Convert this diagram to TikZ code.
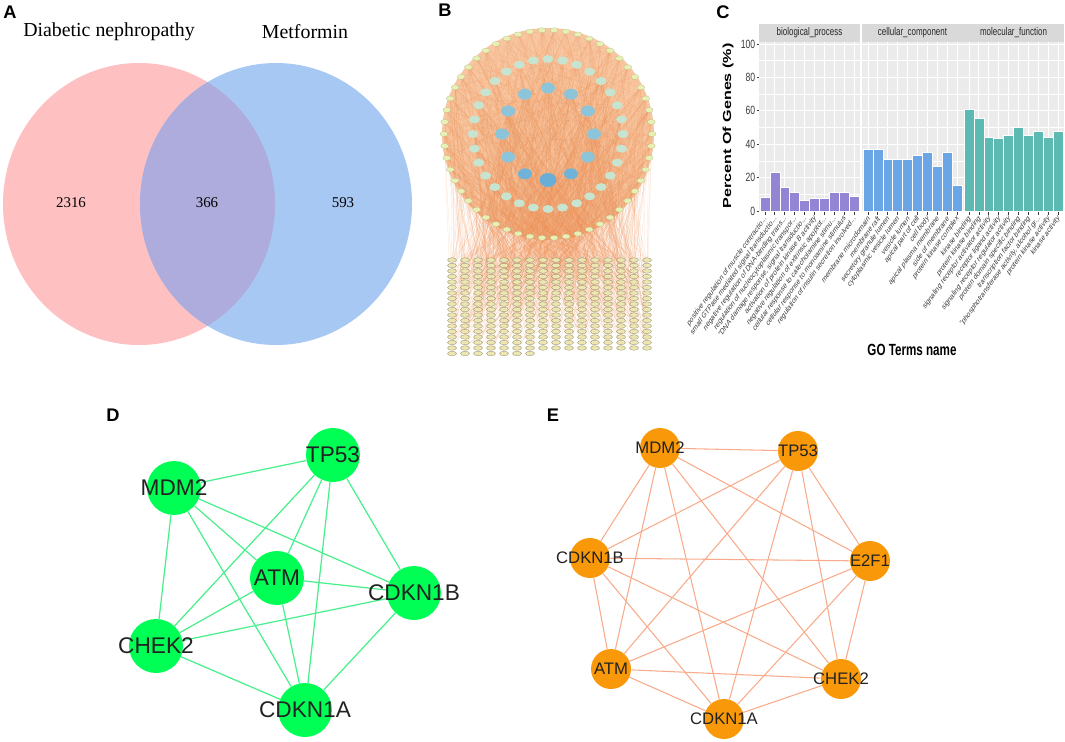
\documentclass[tikz,border=0pt]{standalone}
\usepackage{fontspec}
\setmainfont{Liberation Serif}
\setsansfont{Liberation Sans}
\usetikzlibrary{shapes.geometric}

\definecolor{vennpink}{HTML}{FFC0C2}
\definecolor{vennblue}{HTML}{A8C8F4}
\definecolor{vennmix}{HTML}{AEACDC}
\definecolor{netorange}{HTML}{EE9055}
\definecolor{nethaze}{HTML}{F8C6A0}
\definecolor{outerring}{HTML}{E9F0B4}
\definecolor{midring}{HTML}{C6E4D0}
\definecolor{hubblue}{HTML}{8CC4DA}
\definecolor{hubdark}{HTML}{6AAED8}
\definecolor{gridnode}{HTML}{EDE6B0}
\definecolor{panelgrey}{HTML}{EBEBEB}
\definecolor{stripgrey}{HTML}{D9D9D9}
\definecolor{bpcolor}{HTML}{9484D4}
\definecolor{cccolor}{HTML}{6AA5E6}
\definecolor{mfcolor}{HTML}{5DBAB2}
\definecolor{axisgrey}{HTML}{3A3A3A}
\definecolor{hubgreen}{HTML}{00FF55}
\definecolor{linkgreen}{HTML}{48F08C}
\definecolor{huborange}{HTML}{F9990A}
\definecolor{linkorange}{HTML}{F8AA8A}
\definecolor{labgrey}{HTML}{222222}

\pgfdeclarelayer{bg}
\pgfsetlayers{bg,main}

% truncated GO term ending
\newcommand{\gotrunc}{...}

\tikzset{
  plabel/.style={font=\sffamily\bfseries\fontsize{10.4}{12}\selectfont, inner sep=0pt},
  vtitle/.style={font=\fontsize{11.3}{13}\selectfont, inner sep=0pt},
  vcount/.style={font=\fontsize{8.5}{10}\selectfont, inner sep=0pt},
  onode/.style={ellipse, fill=outerring, draw=outerring!75!black, line width=0.1pt,
    minimum width=0.16cm, minimum height=0.1cm, inner sep=0pt},
  mnode/.style={ellipse, fill=midring, minimum width=0.22cm, minimum height=0.16cm, inner sep=0pt},
  bnode/.style={ellipse, fill=hubblue, minimum width=0.28cm, minimum height=0.22cm, inner sep=0pt},
  gnode/.style={ellipse, fill=gridnode, draw=gridnode!55!black, line width=0.15pt,
    minimum width=0.18cm, minimum height=0.09cm, inner sep=0pt},
  bedge/.style={netorange, line width=0.15pt, opacity=0.28},
  gstrip/.style={fill=stripgrey},
  gpanel/.style={fill=panelgrey},
  gmajor/.style={white, line width=0.5pt},
  gminor/.style={white, line width=0.25pt},
  gtick/.style={axisgrey, line width=0.4pt},
  gaxis/.style={font=\sffamily\fontsize{6.8}{8}\selectfont, text=axisgrey, inner sep=0pt},
  gstriptext/.style={font=\sffamily\fontsize{6.3}{7}\selectfont, text=black!85, inner sep=0pt},
  gterm/.style={font=\sffamily\fontsize{4.8}{5}\selectfont, text=axisgrey, inner sep=0pt},
  gtitle/.style={font=\sffamily\bfseries\fontsize{9.2}{10}\selectfont, inner sep=0pt},
  bpbar/.style={fill=bpcolor, draw=white, line width=0.3pt},
  ccbar/.style={fill=cccolor, draw=white, line width=0.3pt},
  mfbar/.style={fill=mfcolor, draw=white, line width=0.3pt},
  dnode/.style={circle, fill=hubgreen, minimum size=1.08cm, inner sep=0pt},
  dlab/.style={font=\sffamily\fontsize{12.9}{14}\selectfont, text=labgrey, inner sep=0pt},
  dedge/.style={linkgreen, line width=0.7pt},
  enode/.style={circle, fill=huborange, minimum size=0.8cm, inner sep=0pt},
  elab/.style={font=\sffamily\fontsize{9.5}{11}\selectfont, text=labgrey, inner sep=0pt},
  eedge/.style={linkorange, line width=0.6pt}
}

\begin{document}
\begin{tikzpicture}[x=0.02cm,y=-0.02cm]
\useasboundingbox (0,0) rectangle (1065,741);

% A: Venn diagram
\fill[vennpink] (139,204) ellipse [x radius=136, y radius=141];
\fill[vennblue] (276,204) ellipse [x radius=136, y radius=141];
\begin{scope}
  \clip (139,204) ellipse [x radius=136, y radius=141];
  \fill[vennmix] (276,204) ellipse [x radius=136, y radius=141];
\end{scope}
\node[plabel] (lab-a) at (10,12) {A};
\node[vtitle] (set-dn) at (109,32) {Diabetic nephropathy};
\node[vtitle] (set-met) at (305,32) {Metformin};
\node[vcount] (n-dn) at (71,203) {2316};
\node[vcount] (n-both) at (207,203) {366};
\node[vcount] (n-met) at (343,203) {593};

% B: drug-target network
\node[plabel] (lab-b) at (445,10) {B};
\begin{scope}[shift={(548,134)}]
  \foreach \i in {1,...,54}
    \node[onode] (o\i) at ({\i*20/3}:104) {};
  \foreach \i in {1,...,32}
    \node[mnode] (m\i) at ({\i*11.25}:75) {};
  \foreach \i in {1,5,6,7,8,9,10,11,12}
    \node[bnode] (b\i) at ({\i*30}:46) {};
  \foreach \i in {2,4}
    \node[bnode, fill=hubdark!80!hubblue] (b\i) at ({\i*30}:46) {};
  \node[bnode, fill=hubdark, minimum width=0.34cm, minimum height=0.28cm] (b3) at (90:46) {};
\end{scope}
\foreach \r in {1,...,17}
  \foreach \c in {1,...,16}
    \node[gnode] (g-\r-\c) at ({439+13*\c},{254.5+5.5*\r}) {};
\foreach \c in {1,...,7}
  \node[gnode] (g-18-\c) at ({439+13*\c},353.5) {};

\begin{pgfonlayer}{bg}
  \fill[nethaze] (548,134) circle [radius=106];
  \pgfmathsetseed{11}
  \foreach \r in {1,...,17}
    \foreach \c in {1,...,16} {
      \pgfmathrandominteger{\tgo}{1}{54}
      \pgfmathrandominteger{\tgp}{1}{54}
      \pgfmathrandominteger{\tgm}{1}{32}
      \pgfmathrandominteger{\tgb}{1}{12}
      \draw[bedge] (g-\r-\c) -- (o\tgo) (g-\r-\c) -- (o\tgp) (g-\r-\c) -- (m\tgm)
        (g-\r-\c) -- (b\tgb);
    }
  \foreach \c in {1,...,7} {
    \pgfmathrandominteger{\tgo}{1}{54}
    \pgfmathrandominteger{\tgm}{1}{32}
    \draw[bedge] (g-18-\c) -- (o\tgo) (g-18-\c) -- (m\tgm);
  }
  \foreach \i in {1,...,54} {
    \pgfmathrandominteger{\tgm}{1}{32}
    \pgfmathrandominteger{\tgb}{1}{12}
    \pgfmathrandominteger{\tgo}{1}{54}
    \draw[bedge] (o\i) -- (m\tgm) (o\i) -- (b\tgb) (o\i) -- (o\tgo);
  }
  \foreach \i in {1,...,32} {
    \pgfmathrandominteger{\tgb}{1}{12}
    \pgfmathrandominteger{\tgo}{1}{54}
    \draw[bedge] (m\i) -- (b\tgb) (m\i) -- (o\tgo);
  }
\end{pgfonlayer}

% C: GO enrichment bars
\node[plabel] (lab-c) at (723,12) {C};
\foreach \x/\nm/\lab in {759/bp/biological\_process, 862/cc/cellular\_component, 963/mf/molecular\_function} {
  \fill[gstrip] (\x,24) rectangle ++(101,18);
  \node[gstriptext] (strip-\nm) at ({\x+50.5},33) {\scalebox{0.72}[1]{\lab}};
  \fill[gpanel] (\x,42) rectangle ++(101,170);
  \foreach \v in {10,30,...,90}
    \draw[gminor] (\x,{211-1.67*\v}) -- ++(101,0);
  \foreach \v in {0,20,...,100}
    \draw[gmajor] (\x,{211-1.67*\v}) -- ++(101,0);
  \foreach \i in {1,...,10} {
    \draw[gmajor] ({\x+(\i-0.4)*9.9},42) -- ++(0,170);
    \draw[gtick] ({\x+(\i-0.4)*9.9},212) -- ++(0,2.5);
  }
}
\foreach \i/\v in {1/8.2,2/23.4,3/14.2,4/11.2,5/6.5,6/7.6,7/7.6,8/11.2,9/11.2,10/9}
  \filldraw[bpbar] ({759+(\i-0.9)*9.9},211) rectangle ({759+(\i+0.1)*9.9},{211-1.67*\v});
\foreach \i/\v in {1/37,2/37,3/31,4/31,5/31,6/33.5,7/35,8/27,9/35,10/15.5}
  \filldraw[ccbar] ({862+(\i-0.9)*9.9},211) rectangle ({862+(\i+0.1)*9.9},{211-1.67*\v});
\foreach \i/\v in {1/61,2/55.5,3/44.3,4/43.3,5/45.5,6/49.9,7/45.5,8/47.9,9/44.3,10/47.9}
  \filldraw[mfbar] ({963+(\i-0.9)*9.9},211) rectangle ({963+(\i+0.1)*9.9},{211-1.67*\v});
\foreach \v in {0,20,40,60,80,100} {
  \draw[gtick] (756.5,{211-1.67*\v}) -- (759,{211-1.67*\v});
  \node[gaxis, anchor=east] (yt-\v) at (755.5,{211-1.67*\v}) {\scalebox{0.72}[1]{\v}};
}
\node[gtitle, rotate=90] (ytitle) at (728,126) {\scalebox{1}[0.72]{Percent Of Genes (\%)}};
\node[gtitle] (xtitle) at (912,350) {\scalebox{0.72}[1]{GO Terms name}};
\foreach \x/\nm/\terms in {
  759/bp/{1/positive regulation of muscle contractio\gotrunc, 2/small GTPase mediated signal transductio\gotrunc,
    3/negative regulation of DNA-binding trans\gotrunc, 4/regulation of nucleocytoplasmic transpor\gotrunc,
    5/{"DNA damage response, signal transductio\gotrunc}, 6/activation of protein kinase B activity,
    7/negative regulation of extrinsic apoptot\gotrunc, 8/cellular response to catecholamine stimu\gotrunc,
    9/cellular response to monoamine stimulus, 10/regulation of insulin secretion involved\gotrunc},
  862/cc/{1/membrane microdomain, 2/membrane raft, 3/secretory granule lumen,
    4/cytoplasmic vesicle lumen, 5/vesicle lumen, 6/apical part of cell, 7/cell body,
    8/apical plasma membrane, 9/side of membrane, 10/protein kinase complex},
  963/mf/{1/kinase binding, 2/protein kinase binding, 3/signaling receptor activator activity,
    4/receptor ligand activity, 5/signaling receptor regulator activity,
    6/protein domain specific binding, 7/transcription factor binding,
    8/{"phosphotransferase activity, alcohol gr\gotrunc}, 9/protein kinase activity, 10/kinase activity}} {
  \foreach \i/\t in \terms {
    \begin{scope}[shift={({\x+(\i-0.4)*9.9+1},217)}, xscale=0.72, transform shape]
      \node[gterm, rotate=45, anchor=east] (\nm-\i) at (0,0) {\t};
    \end{scope}
  }
}

% D: hub genes, green
\node[plabel] (lab-d) at (113,415) {D};
\node[dnode, label={[dlab]center:TP53}] (d-tp53) at (333,455) {};
\node[dnode, label={[dlab]center:MDM2}] (d-mdm2) at (174,488) {};
\node[dnode, label={[dlab]center:ATM}] (d-atm) at (277,578) {};
\node[dnode, label={[dlab]center:CDKN1B}] (d-cdkn1b) at (414,593) {};
\node[dnode, label={[dlab]center:CHEK2}] (d-chek2) at (156,646) {};
\node[dnode, label={[dlab]center:CDKN1A}] (d-cdkn1a) at (305,710) {};
\begin{pgfonlayer}{bg}
  \foreach \na/\nb in {mdm2/tp53, mdm2/atm, mdm2/cdkn1b, mdm2/chek2, mdm2/cdkn1a,
      tp53/atm, tp53/chek2, tp53/cdkn1a, tp53/cdkn1b, atm/cdkn1b, atm/chek2,
      atm/cdkn1a, cdkn1b/chek2, cdkn1b/cdkn1a, chek2/cdkn1a}
    \draw[dedge] (d-\na) -- (d-\nb);
\end{pgfonlayer}

% E: hub genes, orange
\node[plabel] (lab-e) at (553,415) {E};
\node[enode, label={[elab]center:MDM2}] (e-mdm2) at (660,448) {};
\node[enode, label={[elab]center:TP53}] (e-tp53) at (798,451) {};
\node[enode, label={[elab]center:E2F1}] (e-e2f1) at (870,561) {};
\node[enode, label={[elab]center:CHEK2}] (e-chek2) at (841,679) {};
\node[enode, label={[elab]center:CDKN1A}] (e-cdkn1a) at (724,719) {};
\node[enode, label={[elab]center:ATM}] (e-atm) at (611,669) {};
\node[enode, label={[elab]center:CDKN1B}] (e-cdkn1b) at (590,558) {};
\begin{pgfonlayer}{bg}
  \foreach \na/\nb in {mdm2/tp53, mdm2/e2f1, mdm2/chek2, mdm2/cdkn1a, mdm2/atm, mdm2/cdkn1b,
      tp53/e2f1, tp53/chek2, tp53/cdkn1a, tp53/atm, tp53/cdkn1b,
      e2f1/chek2, e2f1/cdkn1a, e2f1/atm, e2f1/cdkn1b,
      chek2/cdkn1a, chek2/atm, chek2/cdkn1b, cdkn1a/atm, cdkn1a/cdkn1b, atm/cdkn1b}
    \draw[eedge] (e-\na) -- (e-\nb);
\end{pgfonlayer}
\end{tikzpicture}
\end{document}
